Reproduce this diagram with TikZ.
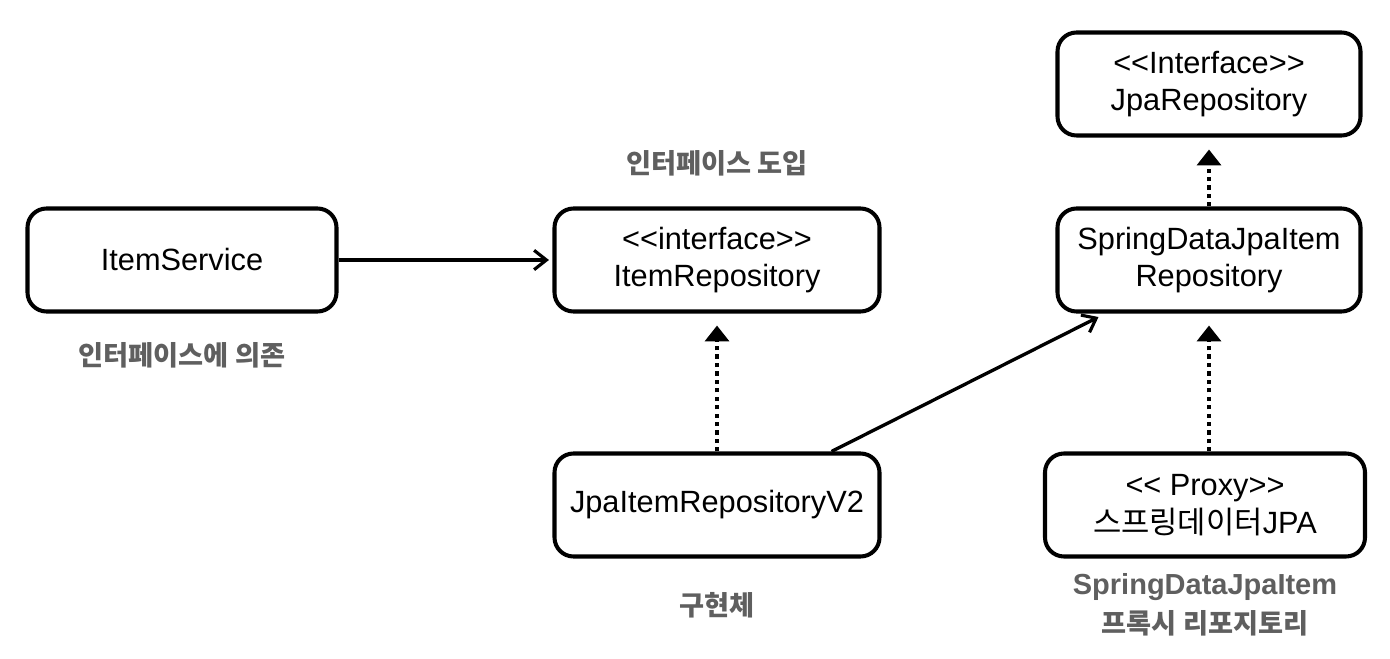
\documentclass[tikz,border=0pt]{standalone}
\usepackage{fontspec}
\setmainfont{Liberation Sans}
\newfontfamily\kr{Noto Sans CJK KR}
\usetikzlibrary{arrows.meta}

\definecolor{notegray}{HTML}{5F5F5F}

\tikzset{
  box/.style={shape=rectangle,draw=black,line width=2.3pt,rounded corners=0.38cm,
    minimum height=2.06cm,align=center,font=\fontsize{17.5}{21.5}\selectfont},
  note/.style={align=center,text=notegray,font=\bfseries\fontsize{15.5}{22}\selectfont},
  uses/.style={-{Straight Barb[length=7pt,width=11pt,line width=1.8pt]},line width=1.9pt},
  impl/.style={-{Triangle[length=9pt,width=13.5pt]},line width=2.4pt,
    dash pattern=on 2.4pt off 2.4pt,shorten >=0.24cm}
}

\begin{document}
\begin{tikzpicture}
        \useasboundingbox (0,0) rectangle (27.8,13.16);

        \node[box,minimum width=6.18cm] (svc)    at (3.64,7.96)  {ItemService};
        \node[box,minimum width=6.5cm]  (irepo)  at (14.34,7.96) {{<}{<}interface{>}{>}\\ItemRepository};
        \node[box,minimum width=6.5cm]  (v2)     at (14.34,3.06) {JpaItemRepositoryV2};
        \node[box,minimum width=6.06cm] (jpa)    at (24.18,11.48) {{<}{<}Interface{>}{>}\\JpaRepository};
        \node[box,minimum width=6.06cm] (spring) at (24.18,7.96) {SpringDataJpaItem\\Repository};
        \node[box,minimum width=6.4cm]  (proxy)  at (24.1,3.06)  {{<}{<} Proxy{>}{>}\\{\kr 스프링데이터}JPA};

        \node[note] (dep)   at (3.64,6.06)  {\kr 인터페이스에 의존};
        \node[note] (intro) at (14.34,9.9)  {\kr 인터페이스 도입};
        \node[note] (impl)  at (14.34,1.06) {\kr 구현체};
        \node[note] (prx)   at (24.1,1.06)  {{\fontsize{16.5}{22}\selectfont SpringDataJpaItem}\\{\kr 프록시 리포지토리}};

        \draw[uses] (svc.east) -- ([xshift=-2pt]irepo.west);
        \draw[uses] ([xshift=-1cm]v2.north east) -- ([xshift=0.86cm,yshift=-2pt]spring.south west);

        \draw[impl] (v2.north) -- (irepo.south);
        \draw[impl] (spring.north) -- (jpa.south);
        \draw[impl] (proxy.north -| spring.south) -- (spring.south);
    \end{tikzpicture}
\end{document}
